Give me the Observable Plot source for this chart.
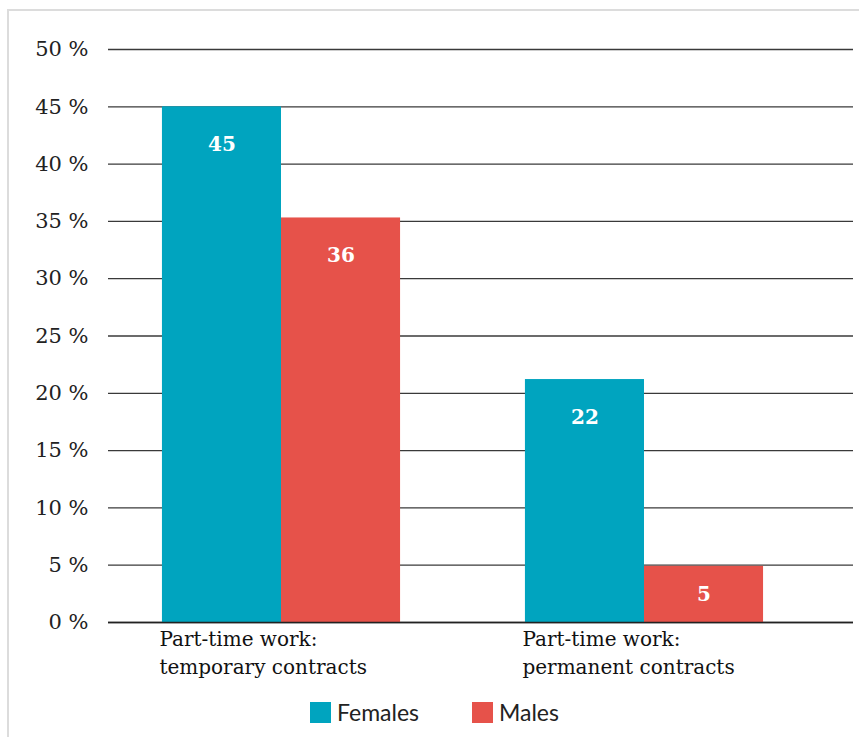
<!DOCTYPE html>
<html>
<head>
<meta charset="utf-8">
<script src="https://cdn.jsdelivr.net/npm/d3@7"></script>
<script src="https://cdn.jsdelivr.net/npm/@observablehq/plot@0.6"></script>
<style>
  html, body { margin: 0; padding: 0; background: #fff; }
  #wrap { position: relative; width: 859px; height: 737px; overflow: hidden; }
  #frame { position: absolute; left: 7px; top: 9px; width: 880px; height: 760px;
           border-left: 2px solid #dcdcdc; border-top: 2px solid #dcdcdc; box-sizing: border-box; }
  #chart { position: absolute; left: 0; top: 0; }
  #legend { position: absolute; top: 699px; left: 0; width: 859px; height: 26px;
            font-family: Lato, "Liberation Sans", sans-serif; font-size: 23px; color: #222; }
  .item { position: absolute; top: 0; display: flex; align-items: center; height: 26px; }
  .sw { width: 21px; height: 21px; margin-right: 6px; }
</style>
</head>
<body>
<div id="wrap">
  <div id="frame"></div>
  <div id="chart"></div>
  <div id="legend"></div>
</div>
<script>
// ---- data ----
const categories = ["Part-time work:\ntemporary contracts", "Part-time work:\npermanent contracts"];
const series = ["Females", "Males"];
const females = [45, 21.2];        // bar heights (%)
const males = [35.3, 4.9];
const femaleLabels = ["45", "22"]; // data labels as printed
const maleLabels = ["36", "5"];
const yTicks = [0, 5, 10, 15, 20, 25, 30, 35, 40, 45, 50];
const colors = ["#00a4bf", "#e6524a"];

// ---- build table ----
const barW = 0.328; // bar width in category units
const rows = [];
categories.forEach((c, i) => {
  rows.push({cat: c, i, series: "Females", value: females[i], label: femaleLabels[i], x1: i - barW, x2: i});
  rows.push({cat: c, i, series: "Males", value: males[i], label: maleLabels[i], x1: i, x2: i + barW});
});
const catRows = categories.map((c, i) => ({cat: c, x: i - barW}));

const serif = "'DejaVu Serif', 'Liberation Serif', serif";

const chart = Plot.plot({
  width: 859,
  height: 690,
  marginLeft: 108,
  marginRight: 6,
  marginTop: 49,
  marginBottom: 68,
  style: {fontFamily: serif, fontSize: "21px", color: "#222", background: "transparent"},
  x: {domain: [-0.4766, 1.5758], axis: null},
  y: {domain: [0, 50], ticks: yTicks, tickFormat: d => d + " %", tickSize: 0, tickPadding: 20, label: null},
  color: {domain: series, range: colors},
  marks: [
    Plot.ruleY(yTicks, {stroke: "#3a3a3a", strokeWidth: 1.3}),
    Plot.rect(rows, {x1: "x1", x2: "x2", y1: 0, y2: "value", fill: "series"}),
    Plot.ruleY([0], {stroke: "#222", strokeWidth: 1.5}),
    Plot.text(rows, {
      x: d => (d.x1 + d.x2) / 2,
      y: d => Math.max(d.value - 3.3, d.value / 2),
      text: "label", fill: "white", fontWeight: "bold", fontSize: 20, fontFamily: serif
    }),
    Plot.text(catRows, {
      x: "x", y: 0, text: "cat", textAnchor: "start", lineAnchor: "top",
      dx: -3, dy: 4, lineHeight: 1.38, fill: "#111", fontSize: 20, fontFamily: serif
    })
  ]
});
document.getElementById("chart").appendChild(chart);

// ---- legend ----
const legendPos = [310, 472];
const legend = document.getElementById("legend");
series.forEach((s, j) => {
  const it = document.createElement("div");
  it.className = "item";
  it.style.left = legendPos[j] + "px";
  it.innerHTML = `<div class="sw" style="background:${colors[j]}"></div><span>${s}</span>`;
  legend.appendChild(it);
});
</script>
</body>
</html>
